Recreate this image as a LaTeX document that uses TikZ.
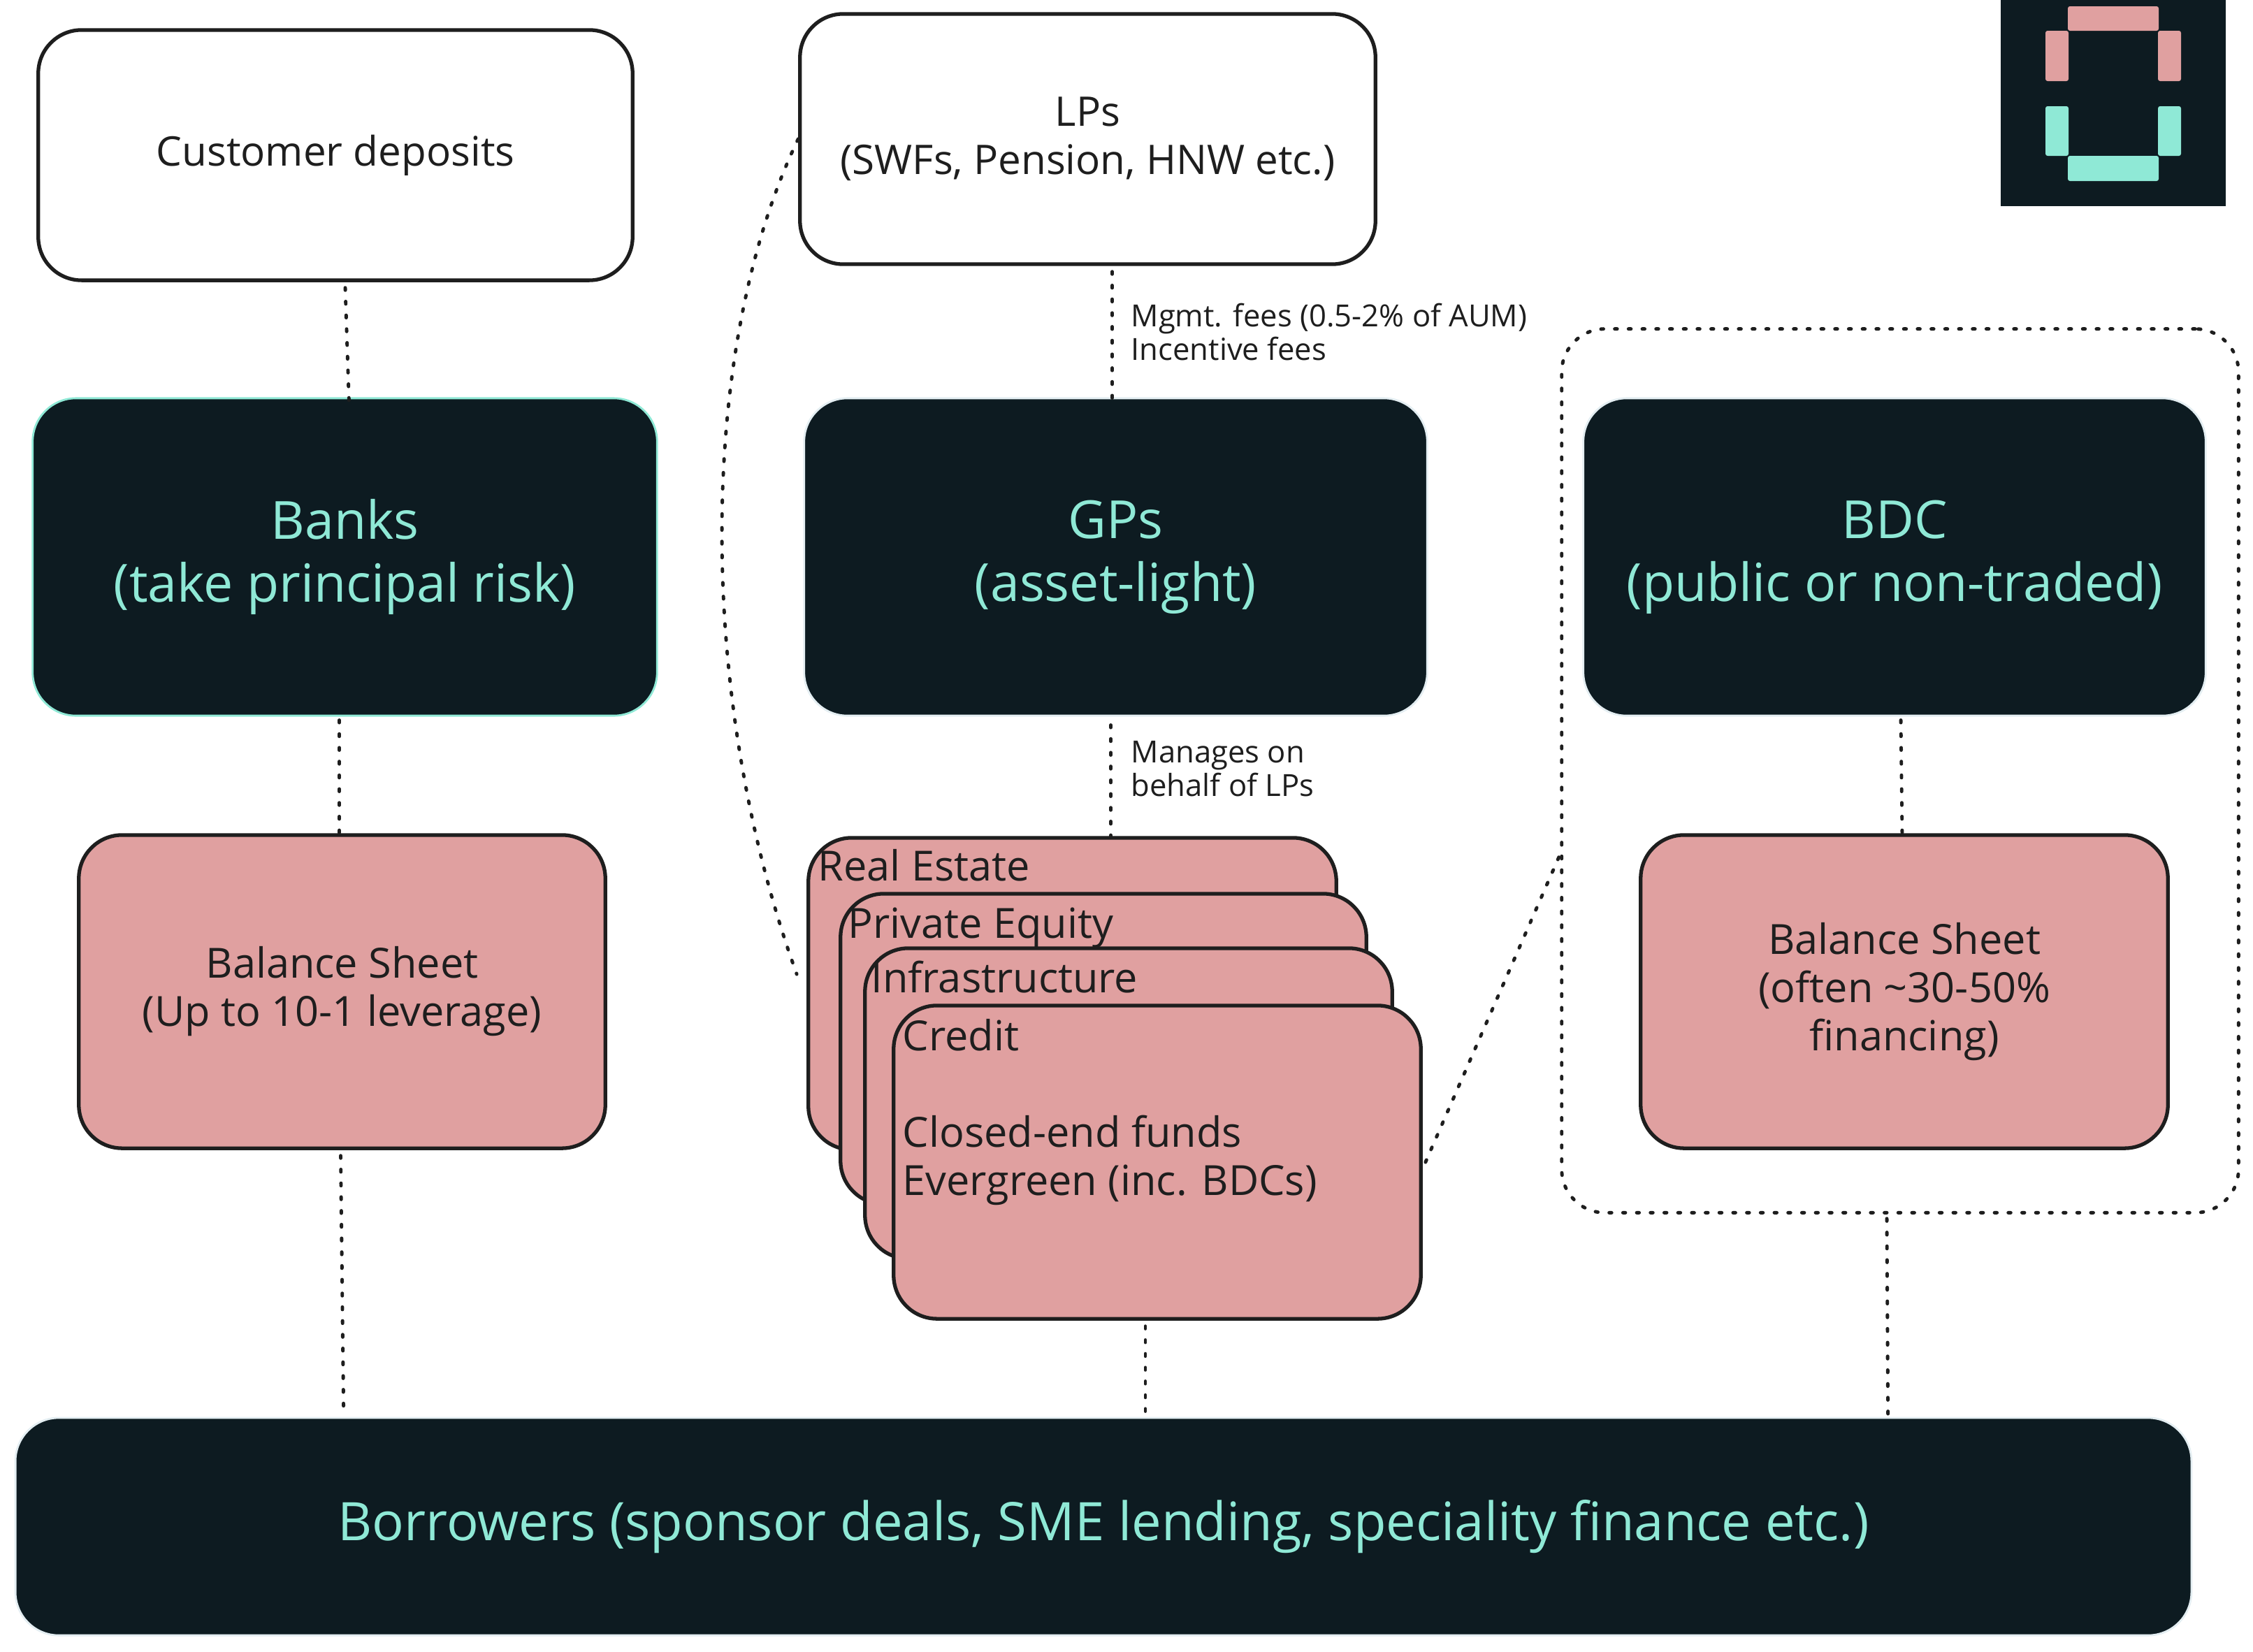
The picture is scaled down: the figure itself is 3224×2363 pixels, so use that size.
\documentclass[tikz,border=0pt]{standalone}
\usepackage{fontspec}
\setmainfont{Open Sans}
\usetikzlibrary{calc}
\definecolor{ink}{HTML}{1E1E1E}
\definecolor{darkbg}{HTML}{0D1B21}
\definecolor{mint}{HTML}{8FE9D6}
\definecolor{rose}{HTML}{E0A0A0}
\definecolor{edgepale}{HTML}{E4EEF2}
\tikzset{
  card/.style={draw=ink,line width=1.5pt,rounded corners=0.62cm,inner sep=0pt,align=center,text=ink},
  whitecard/.style={card,fill=white,font=\fontsize{16.6}{19.6}\selectfont},
  rosecard/.style={card,fill=rose,font=\fontsize{16.9}{19.6}\selectfont},
  darkcard/.style={rounded corners=0.62cm,draw=edgepale,line width=0.8pt,fill=darkbg,text=mint,inner sep=0pt,align=center,font=\fontsize{21.4}{25.6}\selectfont},
  cardtext/.style={inner sep=0pt,anchor=west,text=ink,font=\fontsize{16.9}{19.6}\selectfont},
  smalltext/.style={inner sep=0pt,anchor=west,align=left,text=ink,font=\fontsize{12.4}{13.6}\selectfont},
  dots/.style={draw=ink,line width=1.4pt,line cap=round,dash pattern=on 1pt off 4.6pt},
  logobar/.style={fill=#1,rounded corners=0.03cm},
}
\begin{document}
\begin{tikzpicture}[x=0.01cm,y=-0.01cm]
\useasboundingbox (0,0) rectangle (3224,2363);
\fill[white] (0,0) rectangle (3224,2363);
% logo
\fill[darkbg] (2863,0) rectangle (3185,295);
\fill[logobar=rose] (2959,9) rectangle (3089,44);
\fill[logobar=rose] (2927,44) rectangle (2960,116);
\fill[logobar=rose] (3088,44) rectangle (3121,116);
\fill[logobar=mint] (2927,152) rectangle (2960,223);
\fill[logobar=mint] (3088,152) rectangle (3121,223);
\fill[logobar=mint] (2959,223) rectangle (3089,259);
% top boxes
\node[whitecard,minimum width=8.5cm,minimum height=3.58cm] (cust) at (480,222) {Customer deposits};
\node[whitecard,minimum width=8.23cm,minimum height=3.58cm] (lps) at (1556.5,199) {LPs\\(SWFs, Pension, HNW etc.)};
% dark boxes
\node[darkcard,draw=mint,minimum width=8.93cm,minimum height=4.54cm] (banks) at (493.5,797) {Banks\\(take principal risk)};
\node[darkcard,minimum width=8.91cm,minimum height=4.54cm] (gps) at (1596.5,797) {GPs\\(asset-light)};
\node[darkcard,minimum width=8.9cm,minimum height=4.54cm] (bdc) at (2711,797) {BDC\\(public or non-traded)};
% dotted container
\node[dots,rounded corners=0.62cm,inner sep=0pt,minimum width=9.68cm,minimum height=12.64cm] (group) at (2719,1103) {};
% balance sheets
\node[rosecard,minimum width=7.53cm,minimum height=4.48cm] (balL) at (489.5,1419) {Balance Sheet\\(Up to 10-1 leverage)};
\node[rosecard,minimum width=7.54cm,minimum height=4.48cm] (balR) at (2725,1419) {Balance Sheet\\(often \textasciitilde30-50\%\\financing)};
% stack
\node[rosecard,minimum width=7.55cm,minimum height=4.46cm] (re) at (1534.5,1422) {};
\node[cardtext] (reT) at (1170,1238) {Real Estate};
\node[rosecard,minimum width=7.52cm,minimum height=4.44cm] (pe) at (1579,1501) {};
\node[cardtext] (peT) at (1213,1328) {Private Equity};
\node[rosecard,minimum width=7.54cm,minimum height=4.44cm] (inf) at (1615,1579) {};
\node[cardtext] (infT) at (1246,1398) {Infrastructure};
\node[rosecard,minimum width=7.54cm,minimum height=4.48cm] (cr) at (1656,1663) {};
\node[cardtext,anchor=north west,align=left] (crT) at (1291,1458) {Credit\\[0pt]\mbox{}\\Closed-end funds\\Evergreen (inc. BDCs)};
% borrowers
\node[darkcard,minimum width=31.12cm,minimum height=3.11cm] (bor) at (1579,2184.5) {\fontsize{21.6}{25.6}\selectfont Borrowers (sponsor deals, SME lending, speciality finance etc.)};
% small labels
\node[smalltext] (fees) at (1618,475) {Mgmt. fees (0.5-2\% of AUM)\\Incentive fees};
\node[smalltext] (manages) at (1618,1100) {Manages on\\behalf of LPs};
% connectors
\draw[dots] ($(cust.south)+(14,8)$) -- ($(banks.north)+(6,8)$);
\draw[dots] ($(lps.south)+(35,8)$) -- ($(gps.north)+(-5,8)$);
\draw[dots] ($(banks.south)+(-8,5)$) -- ($(balL.north)+(-4,4)$);
\draw[dots] ($(gps.south)+(-7,12)$) -- ($(re.north)+(55,6)$);
\draw[dots] ($(bdc.south)+(9,5)$) -- ($(balR.north)+(-3,4)$);
\draw[dots] ($(balL.south)+(-2,8)$) -- ($(bor.north west)+(471,-4)$);
\draw[dots] ($(cr.south)+(-17,8)$) -- ($(bor.north)+(60,2)$);
\draw[dots] ($(group.south)+(-19,6)$) -- ($(bor.north west)+(2681,6)$);
\draw[dots] (lps.west) .. controls (997,500) and (997,1000) .. ($(re.west)+(-14,-28)$);
\draw[dots] ($(cr.east)+(4,0)$) -- ($(group.west)+(0,120)$);
\end{tikzpicture}
\end{document}
